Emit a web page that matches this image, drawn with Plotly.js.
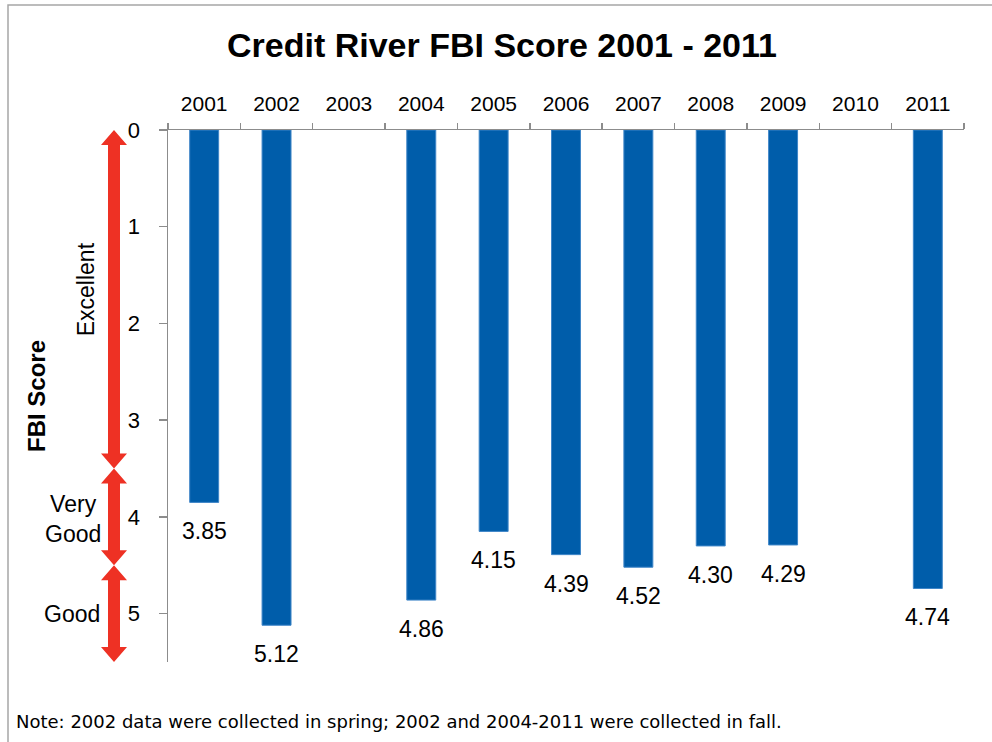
<!DOCTYPE html>
<html>
<head>
<meta charset="utf-8">
<script src="https://cdn.plot.ly/plotly-3.0.1.min.js"></script>
<style>
  html, body { margin: 0; padding: 0; background: #ffffff; }
  #chart { width: 992px; height: 742px; }
</style>
</head>
<body>
<div id="chart"></div>
<script>
// Credit River FBI scores by sampling year (no sample in 2003 and 2010)
const years = ['2001', '2002', '2003', '2004', '2005', '2006', '2007', '2008', '2009', '2010', '2011'];
const fbiScores = [3.85, 5.12, null, 4.86, 4.15, 4.39, 4.52, 4.30, 4.29, null, 4.74];

// Water-quality classes on the FBI scale
const classNames = ['Excellent', 'Very<br>Good', 'Good'];
const classFrom = [0, 3.5, 4.5];
const classTo = [3.5, 4.5, 5.5];

const yTicks = [0, 1, 2, 3, 4, 5];

const FONT = 'Liberation Sans, Arial, sans-serif';
const BAR_BLUE = '#005DAA';
const ARROW_RED = '#EE3124';
const AXIS_GREY = '#8C8C8C';

// plot box in pixels, used to turn pixel spots in the margins into paper units
const W = 992, H = 742;
const M = { l: 168, r: 28, t: 130, b: 80 };
const plotW = W - M.l - M.r;
const plotH = H - M.t - M.b;
const px = x => (x - M.l) / plotW;
const py = y => (H - M.b - y) / plotH;

const bars = {
  type: 'bar',
  x: years,
  y: fbiScores,
  width: 0.4,
  marker: { color: BAR_BLUE, line: { color: '#3F86C8', width: 1 } },
  hoverinfo: 'x+y'
};

// value labels beneath each bar end (x given as category index)
const valueLabels = [];
fbiScores.forEach((v, i) => {
  if (v === null) return;
  valueLabels.push({
    x: i, y: v, xref: 'x', yref: 'y',
    text: v.toFixed(2),
    showarrow: false,
    xanchor: 'center', yanchor: 'middle',
    yshift: -29,
    font: { family: FONT, size: 23, color: '#000000' }
  });
});

// double-headed red arrows marking each class range
const arrowX = px(114);
const headLen = 0.155;   // in FBI units
const headHalf = 13, shaftHalf = 6;  // in pixels
const arrowShapes = classFrom.map((a, i) => {
  const b = classTo[i];
  const path = [
    `M 0,${a}`,
    `L ${headHalf},${a + headLen}`,
    `L ${shaftHalf},${a + headLen}`,
    `L ${shaftHalf},${b - headLen}`,
    `L ${headHalf},${b - headLen}`,
    `L 0,${b}`,
    `L ${-headHalf},${b - headLen}`,
    `L ${-shaftHalf},${b - headLen}`,
    `L ${-shaftHalf},${a + headLen}`,
    `L ${-headHalf},${a + headLen}`,
    'Z'
  ].join(' ');
  return {
    type: 'path', path: path,
    xref: 'paper', xsizemode: 'pixel', xanchor: arrowX,
    yref: 'y',
    fillcolor: ARROW_RED, line: { width: 0 },
    layer: 'above'
  };
});

// class names beside the arrows
const classLabelStyle = [
  { x: px(86), angle: -90, shift: 10 },
  { x: px(73), angle: 0, shift: -2 },
  { x: px(72), angle: 0, shift: 0 }
];
const classLabels = classNames.map((name, i) => ({
  x: classLabelStyle[i].x, xref: 'paper',
  y: (classFrom[i] + classTo[i]) / 2, yref: 'y',
  yshift: classLabelStyle[i].shift,
  text: name,
  textangle: classLabelStyle[i].angle,
  showarrow: false,
  xanchor: 'center', yanchor: 'middle', align: 'center',
  font: { family: FONT, size: 23, color: '#000000' }
}));

const otherText = [
  {
    x: px(36), xref: 'paper', y: 0.5, yref: 'paper',
    text: 'FBI Score', textangle: -90, showarrow: false,
    xanchor: 'center', yanchor: 'middle',
    font: { family: FONT, size: 24, color: '#000000', weight: 'bold' }
  },
  {
    x: px(14), xref: 'paper', y: py(721), yref: 'paper',
    text: 'Note: 2002 data were collected in spring; 2002 and 2004-2011 were collected in fall.',
    showarrow: false, xanchor: 'left', yanchor: 'middle',
    font: { family: 'DejaVu Sans, sans-serif', size: 18, color: '#000000' }
  }
];

// outer chart frame
const frame = {
  type: 'rect', xref: 'paper', yref: 'paper',
  x0: px(8), x1: px(1010), y0: py(760), y1: py(5),
  line: { color: '#A6A6A6', width: 1.5 }, fillcolor: 'rgba(0,0,0,0)',
  layer: 'below'
};

const layout = {
  width: W, height: H, autosize: false,
  margin: M,
  paper_bgcolor: '#ffffff', plot_bgcolor: '#ffffff',
  showlegend: false,
  title: {
    text: 'Credit River FBI Score 2001 - 2011',
    xref: 'container', x: 502 / W, xanchor: 'center',
    yref: 'container', y: 1 - 45 / H, yanchor: 'middle',
    font: { family: FONT, size: 34, color: '#000000', weight: 'bold' }
  },
  xaxis: {
    type: 'category', side: 'top',
    categoryorder: 'array', categoryarray: years,
    range: [-0.5, years.length - 0.5],
    tickson: 'boundaries', ticks: 'outside', ticklen: 6, tickwidth: 1.5, tickcolor: AXIS_GREY,
    showline: true, linecolor: AXIS_GREY, linewidth: 1.5,
    showgrid: false, zeroline: false,
    ticklabelstandoff: 9,
    tickfont: { family: FONT, size: 21, color: '#000000' }
  },
  yaxis: {
    range: [5.5, 0], autorange: false,
    tickvals: yTicks, ticktext: yTicks.map(String),
    ticks: 'outside', ticklen: 8, tickwidth: 1.5, tickcolor: AXIS_GREY,
    showline: true, linecolor: AXIS_GREY, linewidth: 1.5,
    showgrid: false, zeroline: false,
    ticklabelstandoff: 14,
    tickfont: { family: FONT, size: 22, color: '#000000' }
  },
  shapes: [frame].concat(arrowShapes),
  annotations: valueLabels.concat(classLabels, otherText)
};

Plotly.newPlot('chart', [bars], layout, { displayModeBar: false, staticPlot: true });
</script>
</body>
</html>
